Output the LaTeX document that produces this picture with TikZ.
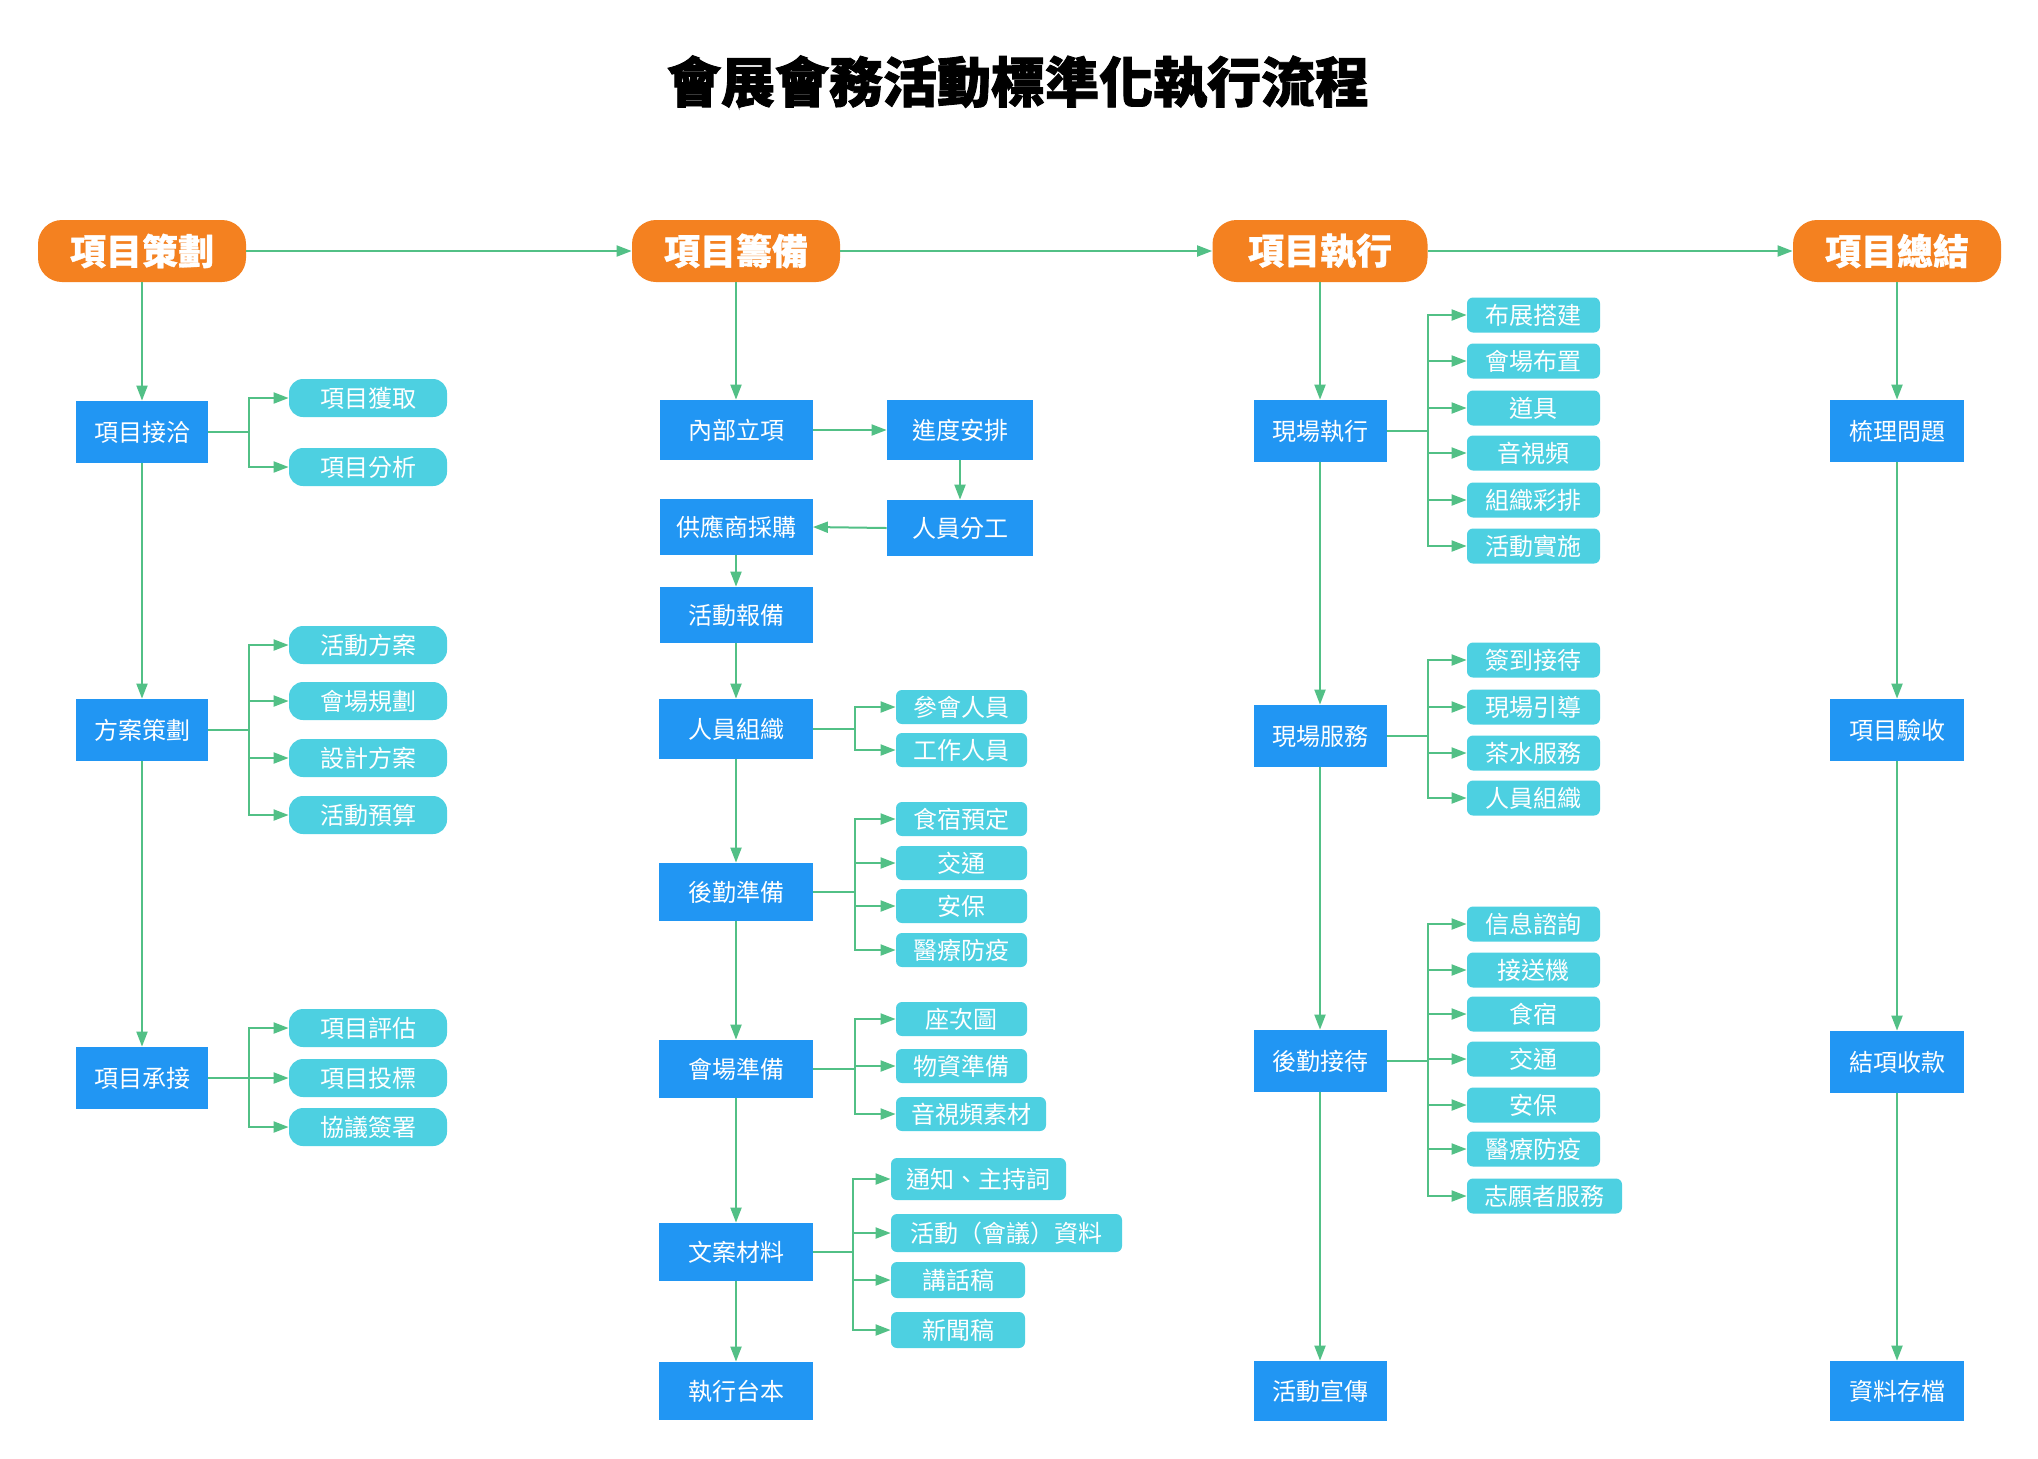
\documentclass[tikz,border=0pt]{standalone}
\usepackage{fontspec}
\newfontfamily\cjk{Noto Sans CJK TC}
\newfontfamily\cjkheavy{Noto Sans CJK TC}[BoldFeatures={FakeBold=1.6}]
\newfontfamily\cjkhdr{Noto Sans CJK TC}[BoldFeatures={FakeBold=0.8}]
\usetikzlibrary{arrows.meta}
\definecolor{hdrorange}{RGB}{244,129,32}
\definecolor{boxblue}{RGB}{33,150,243}
\definecolor{subcyan}{RGB}{77,208,225}
\definecolor{lngreen}{RGB}{82,192,134}
\begin{document}
\begin{tikzpicture}[x=0.5pt,y=-0.5pt,
 hdr/.style={fill=hdrorange, rounded corners=12pt, minimum width=104pt, minimum height=31pt, inner sep=0pt, text=white, font=\cjkhdr\bfseries\fontsize{18}{20}\selectfont},
 bx/.style={fill=boxblue, minimum width=67pt, minimum height=31pt, inner sep=0pt, text=white, font=\cjk\fontsize{12}{14}\selectfont},
 bxm/.style={bx, minimum width=77pt, minimum height=29pt},
 sb/.style={fill=subcyan, rounded corners=3pt, minimum width=66.5pt, minimum height=17.5pt, inner sep=0pt, text=white, font=\cjk\fontsize{12}{14}\selectfont},
 sbr/.style={sb, rounded corners=7pt, minimum width=79pt, minimum height=19pt},
 ln/.style={draw=lngreen, line width=1pt},
 arr/.style={ln, -{Triangle[length=7.5pt,width=5.5pt]}}]
\path[fill=white] (0,0) rectangle (2038,1458);
\useasboundingbox (0,0) rectangle (2038,1458);

\node[font=\cjkheavy\bfseries\fontsize{27}{30}\selectfont] (title) at (1018,82) {會展會務活動標準化執行流程};

% headers
\node[hdr] (h1) at (142,251) {項目策劃};
\node[hdr] (h2) at (736,251) {項目籌備};
\node[hdr, minimum width=107.5pt] (h3) at (1320,251) {項目執行};
\node[hdr] (h4) at (1897,251) {項目總結};
\draw[arr] (h1.east) -- (h2.west);
\draw[arr] (h2.east) -- (h3.west);
\draw[arr] (h3.east) -- (h4.west);

% column 1
\node[bx, minimum width=66pt] (a1) at (142,432) {項目接洽};
\node[bx, minimum width=66pt] (a2) at (142,730) {方案策劃};
\node[bx, minimum width=66pt] (a3) at (142,1078) {項目承接};
\draw[arr] (h1.south) -- (a1.north);
\draw[arr] (a1.south) -- (a2.north);
\draw[arr] (a2.south) -- (a3.north);
\node[sbr] (a11) at (368,398) {項目獲取};
\node[sbr] (a12) at (368,467) {項目分析};
\node[sbr] (a21) at (368,645) {活動方案};
\node[sbr] (a22) at (368,701) {會場規劃};
\node[sbr] (a23) at (368,758) {設計方案};
\node[sbr] (a24) at (368,815) {活動預算};
\node[sbr] (a31) at (368,1028) {項目評估};
\node[sbr] (a32) at (368,1078) {項目投標};
\node[sbr] (a33) at (368,1127) {協議簽署};
\coordinate (bxa) at (249,0);
\foreach \c in {a11,a12} \draw[arr] (a1.east) -- (a1.east -| bxa) |- (\c.west);
\foreach \c in {a21,a22,a23,a24} \draw[arr] (a2.east) -- (a2.east -| bxa) |- (\c.west);
\foreach \c in {a31,a32,a33} \draw[arr] (a3.east) -- (a3.east -| bxa) |- (\c.west);

% column 2
\node[bxm, minimum width=76.5pt, minimum height=30pt] (b1) at (736,430) {內部立項};
\node[bxm, minimum width=73pt, minimum height=30pt] (b2) at (960,430) {進度安排};
\node[bxm, minimum width=73pt, minimum height=28pt] (b3) at (960,528) {人員分工};
\node[bxm, minimum width=76.5pt, minimum height=28pt] (b4) at (736,527) {供應商採購};
\node[bxm, minimum width=76.5pt, minimum height=28pt] (b5) at (736,615) {活動報備};
\node[bxm, minimum height=30pt] (b6) at (736,729) {人員組織};
\node[bxm] (b7) at (736,892) {後勤準備};
\node[bxm] (b8) at (736,1069) {會場準備};
\node[bxm] (b9) at (736,1252) {文案材料};
\node[bxm] (b10) at (736,1391) {執行台本};
\draw[arr] (h2.south) -- (b1.north);
\draw[arr] (b1.east) -- (b2.west);
\draw[arr] (b2.south) -- (b3.north);
\draw[arr] (b3.west) -- (b4.east);
\draw[arr] (b4.south) -- (b5.north);
\draw[arr] (b5.south) -- (b6.north);
\draw[arr] (b6.south) -- (b7.north);
\draw[arr] (b7.south) -- (b8.north);
\draw[arr] (b8.south) -- (b9.north);
\draw[arr] (b9.south) -- (b10.north);
\node[sb, minimum width=65.5pt, minimum height=17pt] (b61) at (961.5,707) {參會人員};
\node[sb, minimum width=65.5pt, minimum height=17pt] (b62) at (961.5,750) {工作人員};
\node[sb, minimum width=65.5pt, minimum height=17pt] (b71) at (961.5,819) {食宿預定};
\node[sb, minimum width=65.5pt, minimum height=17pt] (b72) at (961.5,863) {交通};
\node[sb, minimum width=65.5pt, minimum height=17pt] (b73) at (961.5,906) {安保};
\node[sb, minimum width=65.5pt, minimum height=17pt] (b74) at (961.5,950) {醫療防疫};
\node[sb, minimum width=65.5pt, minimum height=17pt] (b81) at (961.5,1019) {座次圖};
\node[sb, minimum width=65.5pt, minimum height=17pt] (b82) at (961.5,1066) {物資準備};
\node[sb, minimum width=75pt, minimum height=17pt] (b83) at (971,1114) {音視頻素材};
\node[sb, minimum width=87.5pt, minimum height=21pt] (b91) at (978.5,1179) {通知、主持詞};
\node[sb, minimum width=115.5pt, minimum height=19pt] (b92) at (1006.5,1233) {活動（會議）資料};
\node[sb, minimum width=67pt, minimum height=18pt] (b93) at (958,1280) {講話稿};
\node[sb, minimum width=67pt, minimum height=18pt] (b94) at (958,1330) {新聞稿};
\coordinate (bxb) at (855,0);
\coordinate (bxc) at (853,0);
\foreach \c in {b61,b62} \draw[arr] (b6.east) -- (b6.east -| bxb) |- (\c.west);
\foreach \c in {b71,b72,b73,b74} \draw[arr] (b7.east) -- (b7.east -| bxb) |- (\c.west);
\foreach \c in {b81,b82,b83} \draw[arr] (b8.east) -- (b8.east -| bxb) |- (\c.west);
\foreach \c in {b91,b92,b93,b94} \draw[arr] (b9.east) -- (b9.east -| bxc) |- (\c.west);

% column 3
\node[bx, minimum width=66.5pt] (c1) at (1320,431) {現場執行};
\node[bx, minimum width=66.5pt] (c2) at (1320,736) {現場服務};
\node[bx, minimum width=66.5pt] (c3) at (1320,1061) {後勤接待};
\node[bx, minimum width=66.5pt, minimum height=30pt] (c4) at (1320,1391) {活動宣傳};
\draw[arr] (h3.south) -- (c1.north);
\draw[arr] (c1.south) -- (c2.north);
\draw[arr] (c2.south) -- (c3.north);
\draw[arr] (c3.south) -- (c4.north);
\node[sb] (c11) at (1533.5,315) {布展搭建};
\node[sb] (c12) at (1533.5,361) {會場布置};
\node[sb] (c13) at (1533.5,408) {道具};
\node[sb] (c14) at (1533.5,453) {音視頻};
\node[sb] (c15) at (1533.5,500) {組織彩排};
\node[sb] (c16) at (1533.5,546) {活動實施};
\node[sb] (c21) at (1533.5,660) {簽到接待};
\node[sb] (c22) at (1533.5,707) {現場引導};
\node[sb] (c23) at (1533.5,753) {茶水服務};
\node[sb] (c24) at (1533.5,798) {人員組織};
\node[sb] (c31) at (1533.5,924) {信息諮詢};
\node[sb] (c32) at (1533.5,970) {接送機};
\node[sb] (c33) at (1533.5,1014) {食宿};
\node[sb] (c34) at (1533.5,1059) {交通};
\node[sb] (c35) at (1533.5,1105) {安保};
\node[sb] (c36) at (1533.5,1149) {醫療防疫};
\node[sb, minimum width=77.5pt] (c37) at (1544.5,1196) {志願者服務};
\coordinate (bxd) at (1428,0);
\foreach \c in {c11,c12,c13,c14,c15,c16} \draw[arr] (c1.east) -- (c1.east -| bxd) |- (\c.west);
\foreach \c in {c21,c22,c23,c24} \draw[arr] (c2.east) -- (c2.east -| bxd) |- (\c.west);
\foreach \c in {c31,c32,c33,c34,c35,c36,c37} \draw[arr] (c3.east) -- (c3.east -| bxd) |- (\c.west);

% column 4
\node[bx] (d1) at (1897,431) {梳理問題};
\node[bx] (d2) at (1897,730) {項目驗收};
\node[bx] (d3) at (1897,1062) {結項收款};
\node[bx, minimum height=30pt] (d4) at (1897,1391) {資料存檔};
\draw[arr] (h4.south) -- (d1.north);
\draw[arr] (d1.south) -- (d2.north);
\draw[arr] (d2.south) -- (d3.north);
\draw[arr] (d3.south) -- (d4.north);
\end{tikzpicture}
\end{document}
